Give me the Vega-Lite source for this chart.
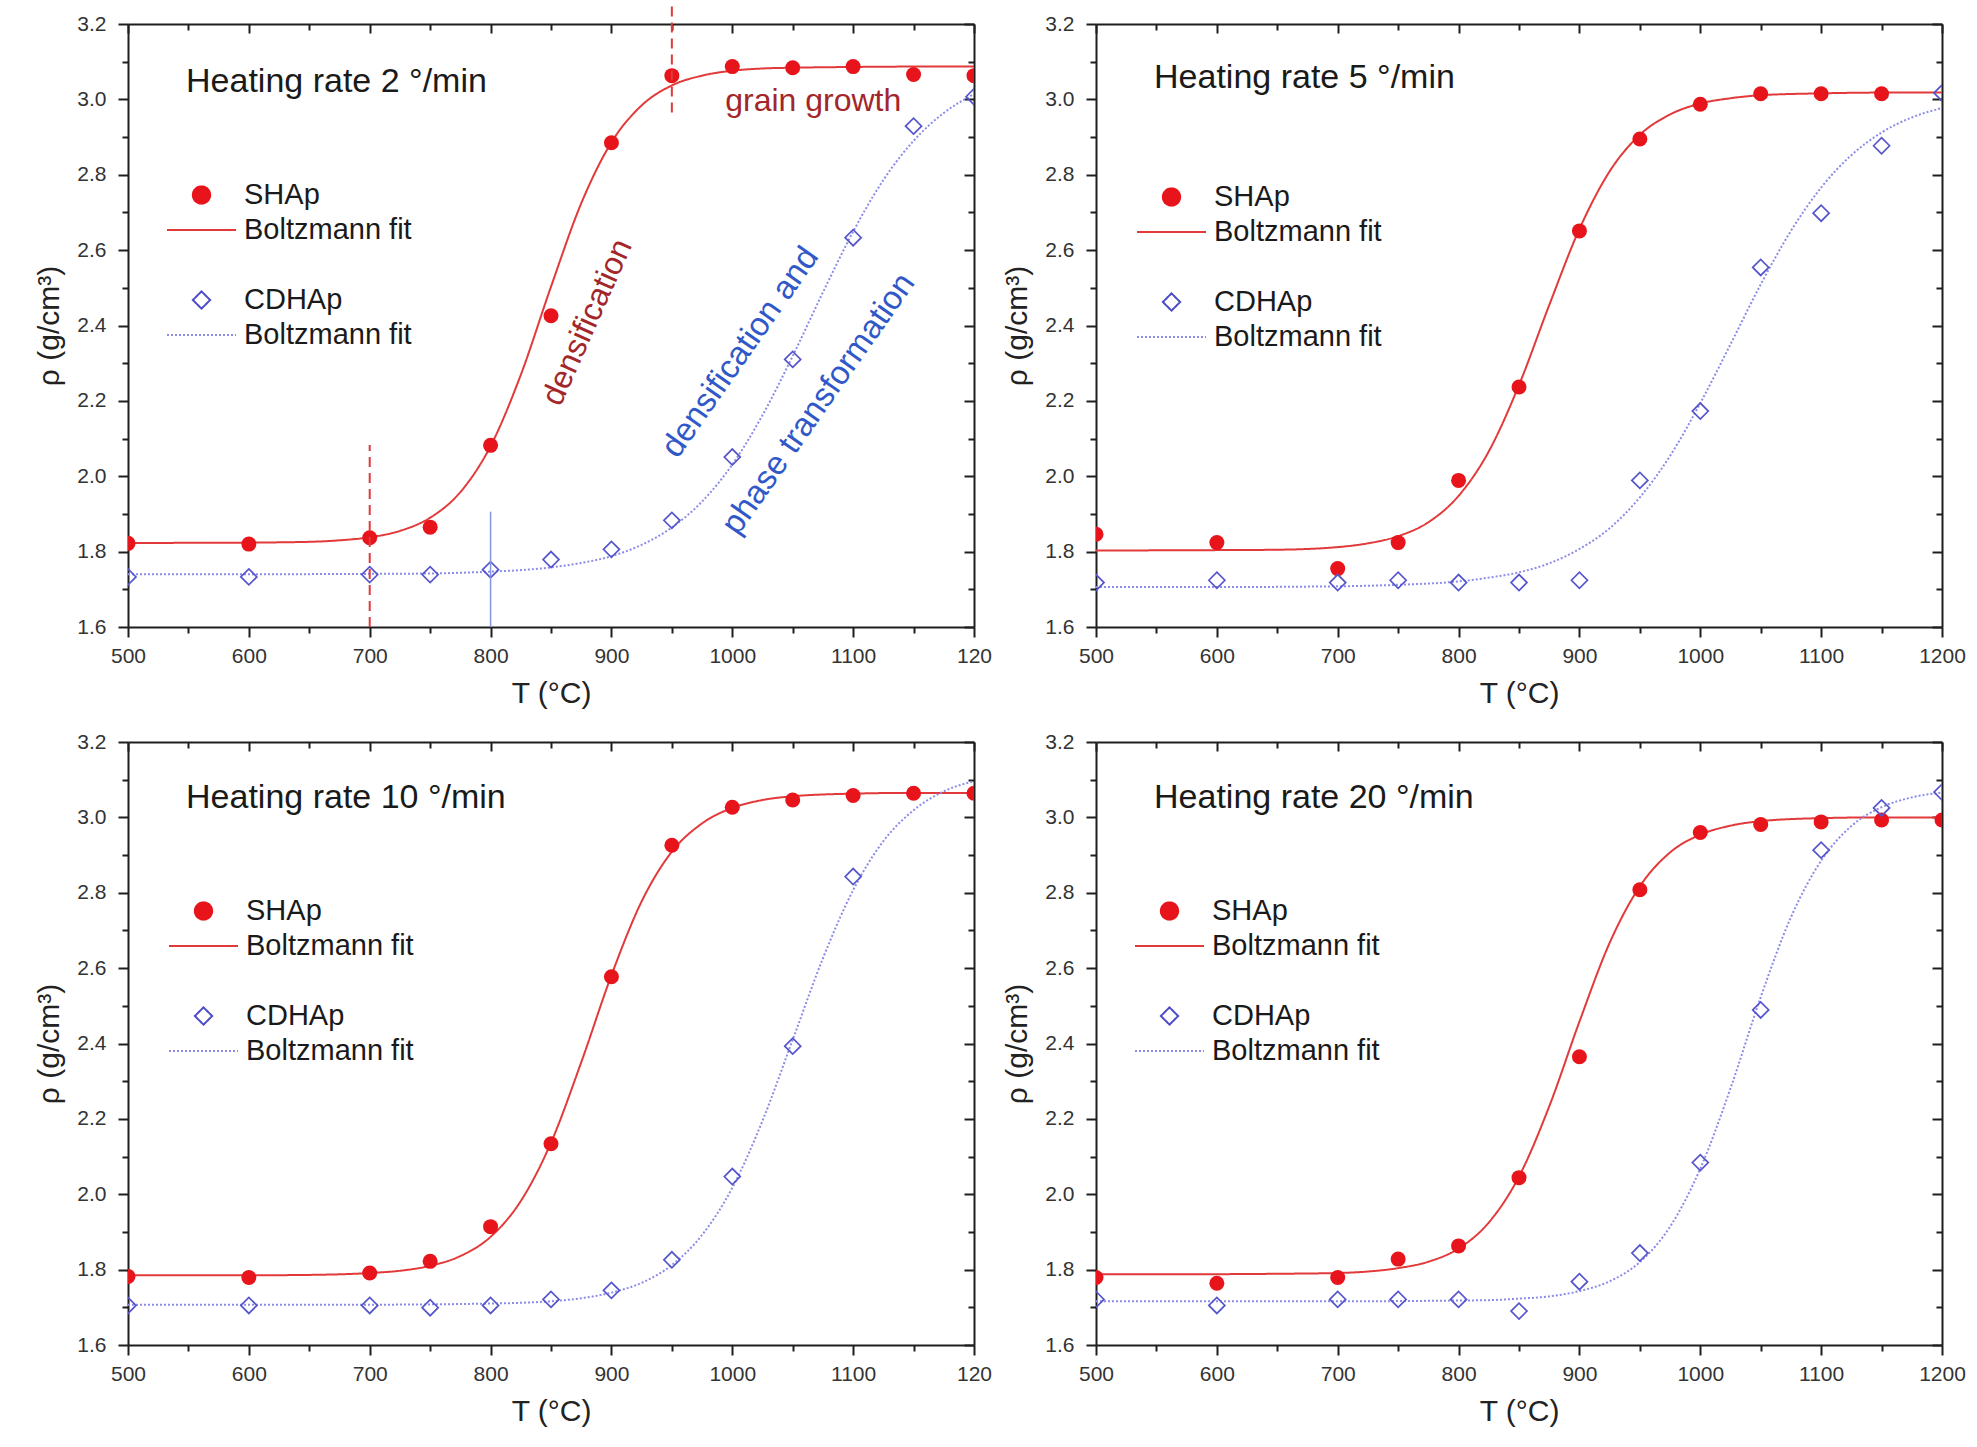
{
"$schema": "https://vega.github.io/schema/vega-lite/v6.json",
"padding": {"left": 34, "top": 0, "right": 5, "bottom": 5},
"background": "white",
"config": {
  "font": "Liberation Sans",
  "view": {"stroke": null},
  "axis": {"grid": false, "domainColor": "#1e1e1e", "domainWidth": 2, "tickColor": "#1e1e1e", "tickWidth": 2,
    "labelFont": "Liberation Sans", "labelFontSize": 21, "labelColor": "#333333", "labelFlush": false, "labelOverlap": false, "labelBound": false,
    "titleFont": "Liberation Sans", "titleFontSize": 30, "titleFontWeight": "normal", "titleColor": "#222222"},
  "legend": {"labelLimit": 400}
},
"datasets": {
  "pts": [
    {"p":"2","s":"SHAp","T":500,"rho":1.822},{"p":"2","s":"SHAp","T":600,"rho":1.820},{"p":"2","s":"SHAp","T":700,"rho":1.837},{"p":"2","s":"SHAp","T":750,"rho":1.865},{"p":"2","s":"SHAp","T":800,"rho":2.082},{"p":"2","s":"SHAp","T":850,"rho":2.426},{"p":"2","s":"SHAp","T":900,"rho":2.885},{"p":"2","s":"SHAp","T":950,"rho":3.063},{"p":"2","s":"SHAp","T":1000,"rho":3.087},{"p":"2","s":"SHAp","T":1050,"rho":3.084},{"p":"2","s":"SHAp","T":1100,"rho":3.087},{"p":"2","s":"SHAp","T":1150,"rho":3.066},{"p":"2","s":"SHAp","T":1200,"rho":3.063},
    {"p":"2","s":"CDHAp","T":500,"rho":1.733},{"p":"2","s":"CDHAp","T":600,"rho":1.733},{"p":"2","s":"CDHAp","T":700,"rho":1.739},{"p":"2","s":"CDHAp","T":750,"rho":1.739},{"p":"2","s":"CDHAp","T":800,"rho":1.752},{"p":"2","s":"CDHAp","T":850,"rho":1.779},{"p":"2","s":"CDHAp","T":900,"rho":1.806},{"p":"2","s":"CDHAp","T":950,"rho":1.883},{"p":"2","s":"CDHAp","T":1000,"rho":2.051},{"p":"2","s":"CDHAp","T":1050,"rho":2.310},{"p":"2","s":"CDHAp","T":1100,"rho":2.633},{"p":"2","s":"CDHAp","T":1150,"rho":2.929},{"p":"2","s":"CDHAp","T":1200,"rho":3.007},
    {"p":"5","s":"SHAp","T":500,"rho":1.846},{"p":"5","s":"SHAp","T":600,"rho":1.824},{"p":"5","s":"SHAp","T":700,"rho":1.755},{"p":"5","s":"SHAp","T":750,"rho":1.824},{"p":"5","s":"SHAp","T":800,"rho":1.989},{"p":"5","s":"SHAp","T":850,"rho":2.237},{"p":"5","s":"SHAp","T":900,"rho":2.651},{"p":"5","s":"SHAp","T":950,"rho":2.895},{"p":"5","s":"SHAp","T":1000,"rho":2.987},{"p":"5","s":"SHAp","T":1050,"rho":3.015},{"p":"5","s":"SHAp","T":1100,"rho":3.015},{"p":"5","s":"SHAp","T":1150,"rho":3.015},
    {"p":"5","s":"CDHAp","T":500,"rho":1.718},{"p":"5","s":"CDHAp","T":600,"rho":1.724},{"p":"5","s":"CDHAp","T":700,"rho":1.718},{"p":"5","s":"CDHAp","T":750,"rho":1.724},{"p":"5","s":"CDHAp","T":800,"rho":1.718},{"p":"5","s":"CDHAp","T":850,"rho":1.718},{"p":"5","s":"CDHAp","T":900,"rho":1.724},{"p":"5","s":"CDHAp","T":950,"rho":1.989},{"p":"5","s":"CDHAp","T":1000,"rho":2.173},{"p":"5","s":"CDHAp","T":1050,"rho":2.554},{"p":"5","s":"CDHAp","T":1100,"rho":2.698},{"p":"5","s":"CDHAp","T":1150,"rho":2.877},{"p":"5","s":"CDHAp","T":1200,"rho":3.017},
    {"p":"10","s":"SHAp","T":500,"rho":1.782},{"p":"10","s":"SHAp","T":600,"rho":1.779},{"p":"10","s":"SHAp","T":700,"rho":1.791},{"p":"10","s":"SHAp","T":750,"rho":1.822},{"p":"10","s":"SHAp","T":800,"rho":1.914},{"p":"10","s":"SHAp","T":850,"rho":2.134},{"p":"10","s":"SHAp","T":900,"rho":2.577},{"p":"10","s":"SHAp","T":950,"rho":2.926},{"p":"10","s":"SHAp","T":1000,"rho":3.027},{"p":"10","s":"SHAp","T":1050,"rho":3.046},{"p":"10","s":"SHAp","T":1100,"rho":3.058},{"p":"10","s":"SHAp","T":1150,"rho":3.064},{"p":"10","s":"SHAp","T":1200,"rho":3.064},
    {"p":"10","s":"CDHAp","T":500,"rho":1.705},{"p":"10","s":"CDHAp","T":600,"rho":1.705},{"p":"10","s":"CDHAp","T":700,"rho":1.705},{"p":"10","s":"CDHAp","T":750,"rho":1.699},{"p":"10","s":"CDHAp","T":800,"rho":1.705},{"p":"10","s":"CDHAp","T":850,"rho":1.721},{"p":"10","s":"CDHAp","T":900,"rho":1.745},{"p":"10","s":"CDHAp","T":950,"rho":1.826},{"p":"10","s":"CDHAp","T":1000,"rho":2.047},{"p":"10","s":"CDHAp","T":1050,"rho":2.393},{"p":"10","s":"CDHAp","T":1100,"rho":2.843},
    {"p":"20","s":"SHAp","T":500,"rho":1.779},{"p":"20","s":"SHAp","T":600,"rho":1.764},{"p":"20","s":"SHAp","T":700,"rho":1.779},{"p":"20","s":"SHAp","T":750,"rho":1.828},{"p":"20","s":"SHAp","T":800,"rho":1.863},{"p":"20","s":"SHAp","T":850,"rho":2.044},{"p":"20","s":"SHAp","T":900,"rho":2.365},{"p":"20","s":"SHAp","T":950,"rho":2.808},{"p":"20","s":"SHAp","T":1000,"rho":2.960},{"p":"20","s":"SHAp","T":1050,"rho":2.981},{"p":"20","s":"SHAp","T":1100,"rho":2.988},{"p":"20","s":"SHAp","T":1150,"rho":2.993},{"p":"20","s":"SHAp","T":1200,"rho":2.993},
    {"p":"20","s":"CDHAp","T":500,"rho":1.721},{"p":"20","s":"CDHAp","T":600,"rho":1.705},{"p":"20","s":"CDHAp","T":700,"rho":1.721},{"p":"20","s":"CDHAp","T":750,"rho":1.721},{"p":"20","s":"CDHAp","T":800,"rho":1.721},{"p":"20","s":"CDHAp","T":850,"rho":1.690},{"p":"20","s":"CDHAp","T":900,"rho":1.768},{"p":"20","s":"CDHAp","T":950,"rho":1.844},{"p":"20","s":"CDHAp","T":1000,"rho":2.084},{"p":"20","s":"CDHAp","T":1050,"rho":2.489},{"p":"20","s":"CDHAp","T":1100,"rho":2.913},{"p":"20","s":"CDHAp","T":1150,"rho":3.025},{"p":"20","s":"CDHAp","T":1200,"rho":3.067}
  ],
  "fits": [
    {"p":"2","s":"SHAp fit","T":500,"rho":1.823},{"p":"2","s":"SHAp fit","T":600,"rho":1.824},{"p":"2","s":"SHAp fit","T":650,"rho":1.826},{"p":"2","s":"SHAp fit","T":675,"rho":1.830},{"p":"2","s":"SHAp fit","T":700,"rho":1.838},{"p":"2","s":"SHAp fit","T":725,"rho":1.855},{"p":"2","s":"SHAp fit","T":750,"rho":1.890},{"p":"2","s":"SHAp fit","T":775,"rho":1.958},{"p":"2","s":"SHAp fit","T":800,"rho":2.080},{"p":"2","s":"SHAp fit","T":825,"rho":2.269},{"p":"2","s":"SHAp fit","T":850,"rho":2.503},{"p":"2","s":"SHAp fit","T":875,"rho":2.724},{"p":"2","s":"SHAp fit","T":900,"rho":2.886},{"p":"2","s":"SHAp fit","T":925,"rho":2.984},{"p":"2","s":"SHAp fit","T":950,"rho":3.037},{"p":"2","s":"SHAp fit","T":975,"rho":3.063},{"p":"2","s":"SHAp fit","T":1000,"rho":3.076},{"p":"2","s":"SHAp fit","T":1025,"rho":3.082},{"p":"2","s":"SHAp fit","T":1050,"rho":3.084},{"p":"2","s":"SHAp fit","T":1100,"rho":3.086},{"p":"2","s":"SHAp fit","T":1150,"rho":3.087},{"p":"2","s":"SHAp fit","T":1200,"rho":3.087},
    {"p":"2","s":"CDHAp fit","T":500,"rho":1.740},{"p":"2","s":"CDHAp fit","T":600,"rho":1.740},{"p":"2","s":"CDHAp fit","T":700,"rho":1.741},{"p":"2","s":"CDHAp fit","T":750,"rho":1.742},{"p":"2","s":"CDHAp fit","T":800,"rho":1.747},{"p":"2","s":"CDHAp fit","T":825,"rho":1.751},{"p":"2","s":"CDHAp fit","T":850,"rho":1.758},{"p":"2","s":"CDHAp fit","T":875,"rho":1.770},{"p":"2","s":"CDHAp fit","T":900,"rho":1.788},{"p":"2","s":"CDHAp fit","T":925,"rho":1.818},{"p":"2","s":"CDHAp fit","T":950,"rho":1.864},{"p":"2","s":"CDHAp fit","T":975,"rho":1.933},{"p":"2","s":"CDHAp fit","T":1000,"rho":2.031},{"p":"2","s":"CDHAp fit","T":1025,"rho":2.162},{"p":"2","s":"CDHAp fit","T":1050,"rho":2.319},{"p":"2","s":"CDHAp fit","T":1075,"rho":2.488},{"p":"2","s":"CDHAp fit","T":1100,"rho":2.649},{"p":"2","s":"CDHAp fit","T":1125,"rho":2.786},{"p":"2","s":"CDHAp fit","T":1150,"rho":2.890},{"p":"2","s":"CDHAp fit","T":1175,"rho":2.964},{"p":"2","s":"CDHAp fit","T":1200,"rho":3.014},
    {"p":"5","s":"SHAp fit","T":500,"rho":1.803},{"p":"5","s":"SHAp fit","T":600,"rho":1.804},{"p":"5","s":"SHAp fit","T":650,"rho":1.805},{"p":"5","s":"SHAp fit","T":700,"rho":1.812},{"p":"5","s":"SHAp fit","T":725,"rho":1.822},{"p":"5","s":"SHAp fit","T":750,"rho":1.841},{"p":"5","s":"SHAp fit","T":775,"rho":1.878},{"p":"5","s":"SHAp fit","T":800,"rho":1.948},{"p":"5","s":"SHAp fit","T":825,"rho":2.066},{"p":"5","s":"SHAp fit","T":850,"rho":2.242},{"p":"5","s":"SHAp fit","T":875,"rho":2.454},{"p":"5","s":"SHAp fit","T":900,"rho":2.656},{"p":"5","s":"SHAp fit","T":925,"rho":2.809},{"p":"5","s":"SHAp fit","T":950,"rho":2.906},{"p":"5","s":"SHAp fit","T":975,"rho":2.960},{"p":"5","s":"SHAp fit","T":1000,"rho":2.989},{"p":"5","s":"SHAp fit","T":1025,"rho":3.003},{"p":"5","s":"SHAp fit","T":1050,"rho":3.011},{"p":"5","s":"SHAp fit","T":1100,"rho":3.016},{"p":"5","s":"SHAp fit","T":1150,"rho":3.018},{"p":"5","s":"SHAp fit","T":1200,"rho":3.018},
    {"p":"5","s":"CDHAp fit","T":500,"rho":1.706},{"p":"5","s":"CDHAp fit","T":600,"rho":1.706},{"p":"5","s":"CDHAp fit","T":700,"rho":1.708},{"p":"5","s":"CDHAp fit","T":750,"rho":1.712},{"p":"5","s":"CDHAp fit","T":800,"rho":1.721},{"p":"5","s":"CDHAp fit","T":825,"rho":1.731},{"p":"5","s":"CDHAp fit","T":850,"rho":1.745},{"p":"5","s":"CDHAp fit","T":875,"rho":1.769},{"p":"5","s":"CDHAp fit","T":900,"rho":1.807},{"p":"5","s":"CDHAp fit","T":925,"rho":1.862},{"p":"5","s":"CDHAp fit","T":950,"rho":1.944},{"p":"5","s":"CDHAp fit","T":975,"rho":2.054},{"p":"5","s":"CDHAp fit","T":1000,"rho":2.194},{"p":"5","s":"CDHAp fit","T":1025,"rho":2.350},{"p":"5","s":"CDHAp fit","T":1050,"rho":2.509},{"p":"5","s":"CDHAp fit","T":1075,"rho":2.651},{"p":"5","s":"CDHAp fit","T":1100,"rho":2.766},{"p":"5","s":"CDHAp fit","T":1125,"rho":2.852},{"p":"5","s":"CDHAp fit","T":1150,"rho":2.912},{"p":"5","s":"CDHAp fit","T":1175,"rho":2.952},{"p":"5","s":"CDHAp fit","T":1200,"rho":2.977},
    {"p":"10","s":"SHAp fit","T":500,"rho":1.785},{"p":"10","s":"SHAp fit","T":600,"rho":1.785},{"p":"10","s":"SHAp fit","T":650,"rho":1.786},{"p":"10","s":"SHAp fit","T":700,"rho":1.791},{"p":"10","s":"SHAp fit","T":725,"rho":1.797},{"p":"10","s":"SHAp fit","T":750,"rho":1.810},{"p":"10","s":"SHAp fit","T":775,"rho":1.836},{"p":"10","s":"SHAp fit","T":800,"rho":1.887},{"p":"10","s":"SHAp fit","T":825,"rho":1.982},{"p":"10","s":"SHAp fit","T":850,"rho":2.137},{"p":"10","s":"SHAp fit","T":875,"rho":2.350},{"p":"10","s":"SHAp fit","T":900,"rho":2.581},{"p":"10","s":"SHAp fit","T":925,"rho":2.777},{"p":"10","s":"SHAp fit","T":950,"rho":2.909},{"p":"10","s":"SHAp fit","T":975,"rho":2.984},{"p":"10","s":"SHAp fit","T":1000,"rho":3.025},{"p":"10","s":"SHAp fit","T":1025,"rho":3.046},{"p":"10","s":"SHAp fit","T":1050,"rho":3.056},{"p":"10","s":"SHAp fit","T":1100,"rho":3.063},{"p":"10","s":"SHAp fit","T":1150,"rho":3.065},{"p":"10","s":"SHAp fit","T":1200,"rho":3.065},
    {"p":"10","s":"CDHAp fit","T":500,"rho":1.707},{"p":"10","s":"CDHAp fit","T":600,"rho":1.707},{"p":"10","s":"CDHAp fit","T":700,"rho":1.707},{"p":"10","s":"CDHAp fit","T":800,"rho":1.710},{"p":"10","s":"CDHAp fit","T":825,"rho":1.712},{"p":"10","s":"CDHAp fit","T":850,"rho":1.716},{"p":"10","s":"CDHAp fit","T":875,"rho":1.724},{"p":"10","s":"CDHAp fit","T":900,"rho":1.739},{"p":"10","s":"CDHAp fit","T":925,"rho":1.765},{"p":"10","s":"CDHAp fit","T":950,"rho":1.812},{"p":"10","s":"CDHAp fit","T":975,"rho":1.892},{"p":"10","s":"CDHAp fit","T":1000,"rho":2.017},{"p":"10","s":"CDHAp fit","T":1025,"rho":2.195},{"p":"10","s":"CDHAp fit","T":1050,"rho":2.410},{"p":"10","s":"CDHAp fit","T":1075,"rho":2.626},{"p":"10","s":"CDHAp fit","T":1100,"rho":2.807},{"p":"10","s":"CDHAp fit","T":1125,"rho":2.937},{"p":"10","s":"CDHAp fit","T":1150,"rho":3.019},{"p":"10","s":"CDHAp fit","T":1175,"rho":3.069},{"p":"10","s":"CDHAp fit","T":1200,"rho":3.096},
    {"p":"20","s":"SHAp fit","T":500,"rho":1.788},{"p":"20","s":"SHAp fit","T":600,"rho":1.788},{"p":"20","s":"SHAp fit","T":650,"rho":1.789},{"p":"20","s":"SHAp fit","T":700,"rho":1.791},{"p":"20","s":"SHAp fit","T":725,"rho":1.795},{"p":"20","s":"SHAp fit","T":750,"rho":1.804},{"p":"20","s":"SHAp fit","T":775,"rho":1.821},{"p":"20","s":"SHAp fit","T":800,"rho":1.856},{"p":"20","s":"SHAp fit","T":825,"rho":1.925},{"p":"20","s":"SHAp fit","T":850,"rho":2.047},{"p":"20","s":"SHAp fit","T":875,"rho":2.233},{"p":"20","s":"SHAp fit","T":900,"rho":2.458},{"p":"20","s":"SHAp fit","T":925,"rho":2.667},{"p":"20","s":"SHAp fit","T":950,"rho":2.817},{"p":"20","s":"SHAp fit","T":975,"rho":2.907},{"p":"20","s":"SHAp fit","T":1000,"rho":2.954},{"p":"20","s":"SHAp fit","T":1025,"rho":2.978},{"p":"20","s":"SHAp fit","T":1050,"rho":2.990},{"p":"20","s":"SHAp fit","T":1100,"rho":2.998},{"p":"20","s":"SHAp fit","T":1150,"rho":3.000},{"p":"20","s":"SHAp fit","T":1200,"rho":3.000},
    {"p":"20","s":"CDHAp fit","T":500,"rho":1.716},{"p":"20","s":"CDHAp fit","T":600,"rho":1.716},{"p":"20","s":"CDHAp fit","T":700,"rho":1.716},{"p":"20","s":"CDHAp fit","T":800,"rho":1.718},{"p":"20","s":"CDHAp fit","T":825,"rho":1.719},{"p":"20","s":"CDHAp fit","T":850,"rho":1.723},{"p":"20","s":"CDHAp fit","T":875,"rho":1.729},{"p":"20","s":"CDHAp fit","T":900,"rho":1.743},{"p":"20","s":"CDHAp fit","T":925,"rho":1.769},{"p":"20","s":"CDHAp fit","T":950,"rho":1.820},{"p":"20","s":"CDHAp fit","T":975,"rho":1.914},{"p":"20","s":"CDHAp fit","T":1000,"rho":2.068},{"p":"20","s":"CDHAp fit","T":1025,"rho":2.281},{"p":"20","s":"CDHAp fit","T":1050,"rho":2.523},{"p":"20","s":"CDHAp fit","T":1075,"rho":2.735},{"p":"20","s":"CDHAp fit","T":1100,"rho":2.885},{"p":"20","s":"CDHAp fit","T":1125,"rho":2.977},{"p":"20","s":"CDHAp fit","T":1150,"rho":3.027},{"p":"20","s":"CDHAp fit","T":1175,"rho":3.053},{"p":"20","s":"CDHAp fit","T":1200,"rho":3.066}
  ],
  "headings": [
    {"p":"2","label":"Heating rate 2 °/min","T":548,"rho":3.045},
    {"p":"5","label":"Heating rate 5 °/min","T":548,"rho":3.058},
    {"p":"10","label":"Heating rate 10 °/min","T":548,"rho":3.051},
    {"p":"20","label":"Heating rate 20 °/min","T":548,"rho":3.052}
  ]
},
"columns": 2,
"spacing": {"row": 115, "column": 122},
"bounds": "flush",
"resolve": {"scale": {"color": "independent", "strokeDash": "independent"}, "legend": {"color": "independent", "strokeDash": "independent"}},
"concat": [
{
  "width": 846, "height": 603,
  "layer": [
    {"data": {"name": "fits"}, "transform": [{"filter": "datum.p === '2'"}],
     "mark": {"type": "line", "interpolate": "monotone", "strokeWidth": 2, "clip": true},
     "encoding": {
       "x": {"field": "T", "type": "quantitative", "scale": {"domain": [500,1200], "nice": false, "zero": false},
             "axis": {"orient": "bottom", "values": [500,550,600,650,700,750,800,850,900,950,1000,1050,1100,1150,1200], "format": "d", "title": "T (°C)", "labelExpr": "datum.value === 1200 ? '120' : (datum.value % 100 === 0 ? datum.label : '')", "tickSize": {"condition": {"test": "datum.value % 100 === 0", "value": 10}, "value": 6}, "labelPadding": 8, "titlePadding": 12}},
       "y": {"field": "rho", "type": "quantitative", "scale": {"domain": [1.6,3.2], "nice": false, "zero": false},
             "axis": {"orient": "left", "values": [1.6,1.7,1.8,1.9,2.0,2.1,2.2,2.3,2.4,2.5,2.6,2.7,2.8,2.9,3.0,3.1,3.2], "format": ".1f", "title": "ρ (g/cm³)", "labelExpr": "round(datum.value*10) % 2 === 0 ? datum.label : ''", "tickSize": {"condition": {"test": "round(datum.value*10) % 2 === 0", "value": 10}, "value": 6}, "labelPadding": 12, "titlePadding": 12}},
       "color": {"field": "s", "type": "nominal", "scale": {"domain": ["SHAp","SHAp fit"," ","CDHAp","CDHAp fit"], "range": ["#e8141b","#e23a3a","#ffffff","#4d4dc8","#8c8ce8"]},
         "legend": {"orient": "none", "legendX": 38, "legendY": 154, "title": null, "padding": 0, "symbolSize": 4761, "symbolStrokeWidth": 2, "clipHeight": 34, "rowPadding": 1, "labelFont": "Liberation Sans", "labelFontSize": 29, "labelColor": "#1a1a1a", "labelOffset": 7, "labelLimit": 400, "labelExpr": "indexof(datum.label, 'fit') >= 0 ? 'Boltzmann fit' : datum.label",
           "encode": {"symbols": {"update": {
             "shape": {"signal": "datum.value === 'SHAp' ? 'M0.25,0A0.25,0.25,0,1,1,-0.25,0A0.25,0.25,0,1,1,0.25,0Z' : datum.value === 'CDHAp' ? 'M-0.25,0L0,-0.25L0.25,0L0,0.25Z' : 'M-1,0L1,0'"},
             "fill": {"signal": "datum.value === 'SHAp' ? '#e8141b' : 'transparent'"},
             "stroke": {"signal": "datum.value === 'SHAp fit' ? '#e23a3a' : datum.value === 'CDHAp' ? '#4d4dc8' : datum.value === 'CDHAp fit' ? '#8c8ce8' : 'transparent'"},
             "strokeDash": {"signal": "datum.value === 'CDHAp fit' ? [2,2] : [1,0]"},
             "strokeWidth": {"value": 2}, "opacity": {"value": 1}}}}}},
       "strokeDash": {"field": "s", "type": "nominal", "scale": {"domain": ["SHAp fit","CDHAp fit"], "range": [[1,0],[2,2]]}, "legend": null}
     }},
    {"data": {"name": "pts"}, "transform": [{"filter": "datum.p === '2' && datum.s === 'SHAp'"}],
     "mark": {"type": "point", "shape": "circle", "filled": true, "size": 225, "color": "#e8141b", "opacity": 1, "strokeWidth": 0, "clip": true},
     "encoding": {
       "x": {"field": "T", "type": "quantitative", "scale": {"domain": [500,1200], "nice": false, "zero": false},
             "axis": {"orient": "top", "values": [500,550,600,650,700,750,800,850,900,950,1000,1050,1100,1150,1200], "labels": false, "title": null, "tickSize": {"condition": {"test": "datum.value % 100 === 0", "value": -9}, "value": -6}}},
       "y": {"field": "rho", "type": "quantitative", "scale": {"domain": [1.6,3.2], "nice": false, "zero": false},
             "axis": {"orient": "right", "values": [1.6,1.7,1.8,1.9,2.0,2.1,2.2,2.3,2.4,2.5,2.6,2.7,2.8,2.9,3.0,3.1,3.2], "labels": false, "title": null, "tickSize": {"condition": {"test": "round(datum.value*10) % 2 === 0", "value": -10}, "value": -6}}}
     }},
    {"data": {"name": "pts"}, "transform": [{"filter": "datum.p === '2' && datum.s === 'CDHAp'"}],
     "mark": {"type": "point", "shape": "diamond", "filled": false, "size": 256, "color": "#5555cc", "opacity": 1, "strokeWidth": 1.7, "clip": true},
     "encoding": {
       "x": {"field": "T", "type": "quantitative", "scale": {"domain": [500,1200], "nice": false, "zero": false}, "axis": null},
       "y": {"field": "rho", "type": "quantitative", "scale": {"domain": [1.6,3.2], "nice": false, "zero": false}, "axis": null}
     }},
    {"data": {"values": [{"T":700,"lo":1.6,"hi":2.083},{"T":950,"lo":2.965,"hi":3.261}]},
     "mark": {"type": "rule", "color": "#e23a3a", "strokeWidth": 2, "strokeDash": [10,6], "clip": false},
     "encoding": {
       "x": {"field": "T", "type": "quantitative", "scale": {"domain": [500,1200], "nice": false, "zero": false}, "axis": null},
       "y": {"field": "lo", "type": "quantitative", "scale": {"domain": [1.6,3.2], "nice": false, "zero": false}, "axis": null},
       "y2": {"field": "hi"}
     }},
    {"data": {"values": [{"T":800,"lo":1.6,"hi":1.906}]},
     "mark": {"type": "rule", "color": "#8595e0", "strokeWidth": 1.5},
     "encoding": {
       "x": {"field": "T", "type": "quantitative", "scale": {"domain": [500,1200], "nice": false, "zero": false}, "axis": null},
       "y": {"field": "lo", "type": "quantitative", "scale": {"domain": [1.6,3.2], "nice": false, "zero": false}, "axis": null},
       "y2": {"field": "hi"}
     }},
    {"data": {"values": [{"label":"grain growth","T":1067,"rho":2.997}]},
     "mark": {"type": "text", "align": "center", "baseline": "middle", "fontSize": 32, "color": "#a3262a"},
     "encoding": {
       "x": {"field": "T", "type": "quantitative", "scale": {"domain": [500,1200], "nice": false, "zero": false}, "axis": null},
       "y": {"field": "rho", "type": "quantitative", "scale": {"domain": [1.6,3.2], "nice": false, "zero": false}, "axis": null},
       "text": {"field": "label"}
     }},
    {"data": {"values": [{"label":"densification","T":880,"rho":2.409}]},
     "mark": {"type": "text", "align": "center", "baseline": "middle", "fontSize": 32, "color": "#a3262a", "angle": 294},
     "encoding": {
       "x": {"field": "T", "type": "quantitative", "scale": {"domain": [500,1200], "nice": false, "zero": false}, "axis": null},
       "y": {"field": "rho", "type": "quantitative", "scale": {"domain": [1.6,3.2], "nice": false, "zero": false}, "axis": null},
       "text": {"field": "label"}
     }},
    {"data": {"values": [{"label":"densification and","T":1006.6,"rho":2.329},{"label":"phase transformation","T":1071.4,"rho":2.192}]},
     "mark": {"type": "text", "align": "center", "baseline": "middle", "fontSize": 33, "color": "#3158c8", "angle": 305},
     "encoding": {
       "x": {"field": "T", "type": "quantitative", "scale": {"domain": [500,1200], "nice": false, "zero": false}, "axis": null},
       "y": {"field": "rho", "type": "quantitative", "scale": {"domain": [1.6,3.2], "nice": false, "zero": false}, "axis": null},
       "text": {"field": "label"}
     }},
    {"data": {"name": "headings"}, "transform": [{"filter": "datum.p === '2'"}],
     "mark": {"type": "text", "align": "left", "baseline": "middle", "fontSize": 34, "color": "#1a1a1a"},
     "encoding": {
       "x": {"field": "T", "type": "quantitative", "scale": {"domain": [500,1200], "nice": false, "zero": false}, "axis": null},
       "y": {"field": "rho", "type": "quantitative", "scale": {"domain": [1.6,3.2], "nice": false, "zero": false}, "axis": null},
       "text": {"field": "label"}
     }}
  ]
},
{
  "width": 846, "height": 603,
  "layer": [
    {"data": {"name": "fits"}, "transform": [{"filter": "datum.p === '5'"}],
     "mark": {"type": "line", "interpolate": "monotone", "strokeWidth": 2, "clip": true},
     "encoding": {
       "x": {"field": "T", "type": "quantitative", "scale": {"domain": [500,1200], "nice": false, "zero": false},
             "axis": {"orient": "bottom", "values": [500,550,600,650,700,750,800,850,900,950,1000,1050,1100,1150,1200], "format": "d", "title": "T (°C)", "labelExpr": "datum.value % 100 === 0 ? datum.label : ''", "tickSize": {"condition": {"test": "datum.value % 100 === 0", "value": 10}, "value": 6}, "labelPadding": 8, "titlePadding": 12}},
       "y": {"field": "rho", "type": "quantitative", "scale": {"domain": [1.6,3.2], "nice": false, "zero": false},
             "axis": {"orient": "left", "values": [1.6,1.7,1.8,1.9,2.0,2.1,2.2,2.3,2.4,2.5,2.6,2.7,2.8,2.9,3.0,3.1,3.2], "format": ".1f", "title": "ρ (g/cm³)", "labelExpr": "round(datum.value*10) % 2 === 0 ? datum.label : ''", "tickSize": {"condition": {"test": "round(datum.value*10) % 2 === 0", "value": 10}, "value": 6}, "labelPadding": 12, "titlePadding": 12}},
       "color": {"field": "s", "type": "nominal", "scale": {"domain": ["SHAp","SHAp fit"," ","CDHAp","CDHAp fit"], "range": ["#e8141b","#e23a3a","#ffffff","#4d4dc8","#8c8ce8"]},
         "legend": {"orient": "none", "legendX": 40, "legendY": 156, "title": null, "padding": 0, "symbolSize": 4761, "symbolStrokeWidth": 2, "clipHeight": 34, "rowPadding": 1, "labelFont": "Liberation Sans", "labelFontSize": 29, "labelColor": "#1a1a1a", "labelOffset": 7, "labelLimit": 400, "labelExpr": "indexof(datum.label, 'fit') >= 0 ? 'Boltzmann fit' : datum.label",
           "encode": {"symbols": {"update": {
             "shape": {"signal": "datum.value === 'SHAp' ? 'M0.25,0A0.25,0.25,0,1,1,-0.25,0A0.25,0.25,0,1,1,0.25,0Z' : datum.value === 'CDHAp' ? 'M-0.25,0L0,-0.25L0.25,0L0,0.25Z' : 'M-1,0L1,0'"},
             "fill": {"signal": "datum.value === 'SHAp' ? '#e8141b' : 'transparent'"},
             "stroke": {"signal": "datum.value === 'SHAp fit' ? '#e23a3a' : datum.value === 'CDHAp' ? '#4d4dc8' : datum.value === 'CDHAp fit' ? '#8c8ce8' : 'transparent'"},
             "strokeDash": {"signal": "datum.value === 'CDHAp fit' ? [2,2] : [1,0]"},
             "strokeWidth": {"value": 2}, "opacity": {"value": 1}}}}}},
       "strokeDash": {"field": "s", "type": "nominal", "scale": {"domain": ["SHAp fit","CDHAp fit"], "range": [[1,0],[2,2]]}, "legend": null}
     }},
    {"data": {"name": "pts"}, "transform": [{"filter": "datum.p === '5' && datum.s === 'SHAp'"}],
     "mark": {"type": "point", "shape": "circle", "filled": true, "size": 225, "color": "#e8141b", "opacity": 1, "strokeWidth": 0, "clip": true},
     "encoding": {
       "x": {"field": "T", "type": "quantitative", "scale": {"domain": [500,1200], "nice": false, "zero": false},
             "axis": {"orient": "top", "values": [500,550,600,650,700,750,800,850,900,950,1000,1050,1100,1150,1200], "labels": false, "title": null, "tickSize": {"condition": {"test": "datum.value % 100 === 0", "value": -9}, "value": -6}}},
       "y": {"field": "rho", "type": "quantitative", "scale": {"domain": [1.6,3.2], "nice": false, "zero": false},
             "axis": {"orient": "right", "values": [1.6,1.7,1.8,1.9,2.0,2.1,2.2,2.3,2.4,2.5,2.6,2.7,2.8,2.9,3.0,3.1,3.2], "labels": false, "title": null, "tickSize": {"condition": {"test": "round(datum.value*10) % 2 === 0", "value": -10}, "value": -6}}}
     }},
    {"data": {"name": "pts"}, "transform": [{"filter": "datum.p === '5' && datum.s === 'CDHAp'"}],
     "mark": {"type": "point", "shape": "diamond", "filled": false, "size": 256, "color": "#5555cc", "opacity": 1, "strokeWidth": 1.7, "clip": true},
     "encoding": {
       "x": {"field": "T", "type": "quantitative", "scale": {"domain": [500,1200], "nice": false, "zero": false}, "axis": null},
       "y": {"field": "rho", "type": "quantitative", "scale": {"domain": [1.6,3.2], "nice": false, "zero": false}, "axis": null}
     }},
    {"data": {"name": "headings"}, "transform": [{"filter": "datum.p === '5'"}],
     "mark": {"type": "text", "align": "left", "baseline": "middle", "fontSize": 34, "color": "#1a1a1a"},
     "encoding": {
       "x": {"field": "T", "type": "quantitative", "scale": {"domain": [500,1200], "nice": false, "zero": false}, "axis": null},
       "y": {"field": "rho", "type": "quantitative", "scale": {"domain": [1.6,3.2], "nice": false, "zero": false}, "axis": null},
       "text": {"field": "label"}
     }}
  ]
},
{
  "width": 846, "height": 603,
  "layer": [
    {"data": {"name": "fits"}, "transform": [{"filter": "datum.p === '10'"}],
     "mark": {"type": "line", "interpolate": "monotone", "strokeWidth": 2, "clip": true},
     "encoding": {
       "x": {"field": "T", "type": "quantitative", "scale": {"domain": [500,1200], "nice": false, "zero": false},
             "axis": {"orient": "bottom", "values": [500,550,600,650,700,750,800,850,900,950,1000,1050,1100,1150,1200], "format": "d", "title": "T (°C)", "labelExpr": "datum.value === 1200 ? '120' : (datum.value % 100 === 0 ? datum.label : '')", "tickSize": {"condition": {"test": "datum.value % 100 === 0", "value": 10}, "value": 6}, "labelPadding": 8, "titlePadding": 12}},
       "y": {"field": "rho", "type": "quantitative", "scale": {"domain": [1.6,3.2], "nice": false, "zero": false},
             "axis": {"orient": "left", "values": [1.6,1.7,1.8,1.9,2.0,2.1,2.2,2.3,2.4,2.5,2.6,2.7,2.8,2.9,3.0,3.1,3.2], "format": ".1f", "title": "ρ (g/cm³)", "labelExpr": "round(datum.value*10) % 2 === 0 ? datum.label : ''", "tickSize": {"condition": {"test": "round(datum.value*10) % 2 === 0", "value": 10}, "value": 6}, "labelPadding": 12, "titlePadding": 12}},
       "color": {"field": "s", "type": "nominal", "scale": {"domain": ["SHAp","SHAp fit"," ","CDHAp","CDHAp fit"], "range": ["#e8141b","#e23a3a","#ffffff","#4d4dc8","#8c8ce8"]},
         "legend": {"orient": "none", "legendX": 40, "legendY": 152, "title": null, "padding": 0, "symbolSize": 4761, "symbolStrokeWidth": 2, "clipHeight": 34, "rowPadding": 1, "labelFont": "Liberation Sans", "labelFontSize": 29, "labelColor": "#1a1a1a", "labelOffset": 7, "labelLimit": 400, "labelExpr": "indexof(datum.label, 'fit') >= 0 ? 'Boltzmann fit' : datum.label",
           "encode": {"symbols": {"update": {
             "shape": {"signal": "datum.value === 'SHAp' ? 'M0.25,0A0.25,0.25,0,1,1,-0.25,0A0.25,0.25,0,1,1,0.25,0Z' : datum.value === 'CDHAp' ? 'M-0.25,0L0,-0.25L0.25,0L0,0.25Z' : 'M-1,0L1,0'"},
             "fill": {"signal": "datum.value === 'SHAp' ? '#e8141b' : 'transparent'"},
             "stroke": {"signal": "datum.value === 'SHAp fit' ? '#e23a3a' : datum.value === 'CDHAp' ? '#4d4dc8' : datum.value === 'CDHAp fit' ? '#8c8ce8' : 'transparent'"},
             "strokeDash": {"signal": "datum.value === 'CDHAp fit' ? [2,2] : [1,0]"},
             "strokeWidth": {"value": 2}, "opacity": {"value": 1}}}}}},
       "strokeDash": {"field": "s", "type": "nominal", "scale": {"domain": ["SHAp fit","CDHAp fit"], "range": [[1,0],[2,2]]}, "legend": null}
     }},
    {"data": {"name": "pts"}, "transform": [{"filter": "datum.p === '10' && datum.s === 'SHAp'"}],
     "mark": {"type": "point", "shape": "circle", "filled": true, "size": 225, "color": "#e8141b", "opacity": 1, "strokeWidth": 0, "clip": true},
     "encoding": {
       "x": {"field": "T", "type": "quantitative", "scale": {"domain": [500,1200], "nice": false, "zero": false},
             "axis": {"orient": "top", "values": [500,550,600,650,700,750,800,850,900,950,1000,1050,1100,1150,1200], "labels": false, "title": null, "tickSize": {"condition": {"test": "datum.value % 100 === 0", "value": -9}, "value": -6}}},
       "y": {"field": "rho", "type": "quantitative", "scale": {"domain": [1.6,3.2], "nice": false, "zero": false},
             "axis": {"orient": "right", "values": [1.6,1.7,1.8,1.9,2.0,2.1,2.2,2.3,2.4,2.5,2.6,2.7,2.8,2.9,3.0,3.1,3.2], "labels": false, "title": null, "tickSize": {"condition": {"test": "round(datum.value*10) % 2 === 0", "value": -10}, "value": -6}}}
     }},
    {"data": {"name": "pts"}, "transform": [{"filter": "datum.p === '10' && datum.s === 'CDHAp'"}],
     "mark": {"type": "point", "shape": "diamond", "filled": false, "size": 256, "color": "#5555cc", "opacity": 1, "strokeWidth": 1.7, "clip": true},
     "encoding": {
       "x": {"field": "T", "type": "quantitative", "scale": {"domain": [500,1200], "nice": false, "zero": false}, "axis": null},
       "y": {"field": "rho", "type": "quantitative", "scale": {"domain": [1.6,3.2], "nice": false, "zero": false}, "axis": null}
     }},
    {"data": {"name": "headings"}, "transform": [{"filter": "datum.p === '10'"}],
     "mark": {"type": "text", "align": "left", "baseline": "middle", "fontSize": 34, "color": "#1a1a1a"},
     "encoding": {
       "x": {"field": "T", "type": "quantitative", "scale": {"domain": [500,1200], "nice": false, "zero": false}, "axis": null},
       "y": {"field": "rho", "type": "quantitative", "scale": {"domain": [1.6,3.2], "nice": false, "zero": false}, "axis": null},
       "text": {"field": "label"}
     }}
  ]
},
{
  "width": 846, "height": 603,
  "layer": [
    {"data": {"name": "fits"}, "transform": [{"filter": "datum.p === '20'"}],
     "mark": {"type": "line", "interpolate": "monotone", "strokeWidth": 2, "clip": true},
     "encoding": {
       "x": {"field": "T", "type": "quantitative", "scale": {"domain": [500,1200], "nice": false, "zero": false},
             "axis": {"orient": "bottom", "values": [500,550,600,650,700,750,800,850,900,950,1000,1050,1100,1150,1200], "format": "d", "title": "T (°C)", "labelExpr": "datum.value % 100 === 0 ? datum.label : ''", "tickSize": {"condition": {"test": "datum.value % 100 === 0", "value": 10}, "value": 6}, "labelPadding": 8, "titlePadding": 12}},
       "y": {"field": "rho", "type": "quantitative", "scale": {"domain": [1.6,3.2], "nice": false, "zero": false},
             "axis": {"orient": "left", "values": [1.6,1.7,1.8,1.9,2.0,2.1,2.2,2.3,2.4,2.5,2.6,2.7,2.8,2.9,3.0,3.1,3.2], "format": ".1f", "title": "ρ (g/cm³)", "labelExpr": "round(datum.value*10) % 2 === 0 ? datum.label : ''", "tickSize": {"condition": {"test": "round(datum.value*10) % 2 === 0", "value": 10}, "value": 6}, "labelPadding": 12, "titlePadding": 12}},
       "color": {"field": "s", "type": "nominal", "scale": {"domain": ["SHAp","SHAp fit"," ","CDHAp","CDHAp fit"], "range": ["#e8141b","#e23a3a","#ffffff","#4d4dc8","#8c8ce8"]},
         "legend": {"orient": "none", "legendX": 38, "legendY": 152, "title": null, "padding": 0, "symbolSize": 4761, "symbolStrokeWidth": 2, "clipHeight": 34, "rowPadding": 1, "labelFont": "Liberation Sans", "labelFontSize": 29, "labelColor": "#1a1a1a", "labelOffset": 7, "labelLimit": 400, "labelExpr": "indexof(datum.label, 'fit') >= 0 ? 'Boltzmann fit' : datum.label",
           "encode": {"symbols": {"update": {
             "shape": {"signal": "datum.value === 'SHAp' ? 'M0.25,0A0.25,0.25,0,1,1,-0.25,0A0.25,0.25,0,1,1,0.25,0Z' : datum.value === 'CDHAp' ? 'M-0.25,0L0,-0.25L0.25,0L0,0.25Z' : 'M-1,0L1,0'"},
             "fill": {"signal": "datum.value === 'SHAp' ? '#e8141b' : 'transparent'"},
             "stroke": {"signal": "datum.value === 'SHAp fit' ? '#e23a3a' : datum.value === 'CDHAp' ? '#4d4dc8' : datum.value === 'CDHAp fit' ? '#8c8ce8' : 'transparent'"},
             "strokeDash": {"signal": "datum.value === 'CDHAp fit' ? [2,2] : [1,0]"},
             "strokeWidth": {"value": 2}, "opacity": {"value": 1}}}}}},
       "strokeDash": {"field": "s", "type": "nominal", "scale": {"domain": ["SHAp fit","CDHAp fit"], "range": [[1,0],[2,2]]}, "legend": null}
     }},
    {"data": {"name": "pts"}, "transform": [{"filter": "datum.p === '20' && datum.s === 'SHAp'"}],
     "mark": {"type": "point", "shape": "circle", "filled": true, "size": 225, "color": "#e8141b", "opacity": 1, "strokeWidth": 0, "clip": true},
     "encoding": {
       "x": {"field": "T", "type": "quantitative", "scale": {"domain": [500,1200], "nice": false, "zero": false},
             "axis": {"orient": "top", "values": [500,550,600,650,700,750,800,850,900,950,1000,1050,1100,1150,1200], "labels": false, "title": null, "tickSize": {"condition": {"test": "datum.value % 100 === 0", "value": -9}, "value": -6}}},
       "y": {"field": "rho", "type": "quantitative", "scale": {"domain": [1.6,3.2], "nice": false, "zero": false},
             "axis": {"orient": "right", "values": [1.6,1.7,1.8,1.9,2.0,2.1,2.2,2.3,2.4,2.5,2.6,2.7,2.8,2.9,3.0,3.1,3.2], "labels": false, "title": null, "tickSize": {"condition": {"test": "round(datum.value*10) % 2 === 0", "value": -10}, "value": -6}}}
     }},
    {"data": {"name": "pts"}, "transform": [{"filter": "datum.p === '20' && datum.s === 'CDHAp'"}],
     "mark": {"type": "point", "shape": "diamond", "filled": false, "size": 256, "color": "#5555cc", "opacity": 1, "strokeWidth": 1.7, "clip": true},
     "encoding": {
       "x": {"field": "T", "type": "quantitative", "scale": {"domain": [500,1200], "nice": false, "zero": false}, "axis": null},
       "y": {"field": "rho", "type": "quantitative", "scale": {"domain": [1.6,3.2], "nice": false, "zero": false}, "axis": null}
     }},
    {"data": {"name": "headings"}, "transform": [{"filter": "datum.p === '20'"}],
     "mark": {"type": "text", "align": "left", "baseline": "middle", "fontSize": 34, "color": "#1a1a1a"},
     "encoding": {
       "x": {"field": "T", "type": "quantitative", "scale": {"domain": [500,1200], "nice": false, "zero": false}, "axis": null},
       "y": {"field": "rho", "type": "quantitative", "scale": {"domain": [1.6,3.2], "nice": false, "zero": false}, "axis": null},
       "text": {"field": "label"}
     }}
  ]
}
]
}
